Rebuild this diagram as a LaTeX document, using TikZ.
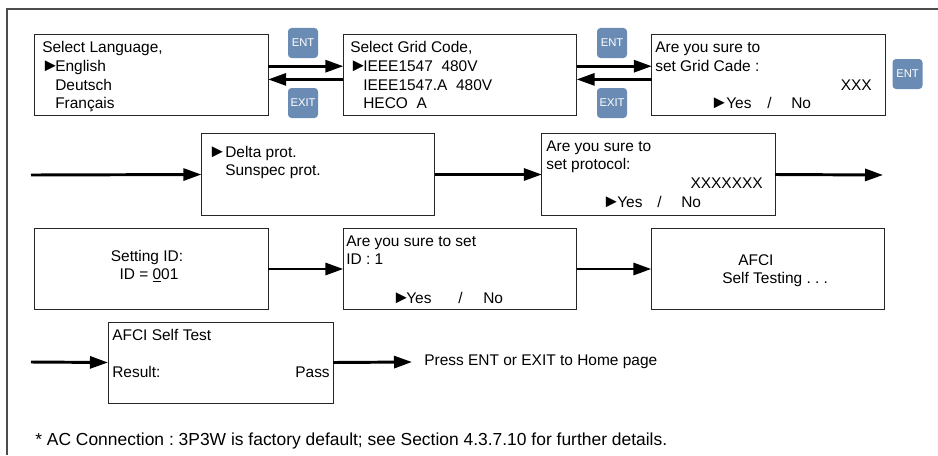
\documentclass[tikz,border=0pt]{standalone}
\usepackage{fontspec}
\setmainfont{Liberation Sans}
\usetikzlibrary{arrows.meta}
\definecolor{keyblue}{RGB}{106,140,180}
\frenchspacing
\begin{document}
\begin{tikzpicture}[x=0.025cm, y=-0.025cm,
    screen/.style={draw=black!85, line width=0.6pt, inner sep=0pt, outer sep=0pt,
      minimum width=5.83cm, minimum height=2.03cm},
    key/.style={fill=keyblue, rounded corners=2.5pt, minimum size=0.75cm, inner sep=0pt,
      text=white, font=\fontsize{8}{9}\selectfont},
    txt/.style={anchor=base west, inner sep=0pt, font=\fontsize{11}{13}\selectfont},
    rtxt/.style={txt, anchor=base east},
    ctxt/.style={txt, anchor=base},
    pick/.style={txt, font=\fontsize{13}{13}\selectfont},
    flow/.style={line width=2.1pt, -{Triangle[length=0.45cm, width=0.3cm]}}]
    \useasboundingbox (0,0) rectangle (938,455);
    % Rahmen
    \draw[black!70, line width=1.2pt] (7,455) -- (7,9) -- (938,9);

    % Sprache
    \node[screen] (lang) at (151.5,75) {};
    \node[txt] (langA) at (42,52) {Select Language,};
    \node[pick] (langP) at (41,71) {►};
    \node[txt] (langB) at (55,71) {English};
    \node[txt] (langC) at (55,90) {Deutsch};
    \node[txt] (langD) at (55,108) {Français};

    % Netzcode
    \node[screen] (grid) at (460,75) {};
    \node[txt] (gridA) at (350,52) {Select Grid Code,};
    \node[pick] (gridP) at (349,71) {►};
    \node[txt] (gridB) at (363,71) {IEEE1547\ \ 480V};
    \node[txt] (gridC) at (363,90) {IEEE1547.A\ \ 480V};
    \node[txt] (gridD) at (363,108) {HECO\ \ A};

    % Bestaetigung Netzcode
    \node[screen] (gridok) at (768.5,75) {};
    \node[txt] (gridokA) at (655,52) {Are you sure to};
    \node[txt] (gridokB) at (655,71) {set Grid Cade :};
    \node[rtxt] (gridokC) at (872,90) {XXX};
    \node[pick] (gridokP) at (710,108) {►};
    \node[txt] (gridokY) at (726,108) {Yes};
    \node[txt] (gridokS) at (767,108) {/};
    \node[txt] (gridokN) at (791,108) {No};

    % Tasten
    \node[key] (ent1) at (303,43) {ENT};
    \node[key] (exit1) at (303,103) {EXIT};
    \node[key] (ent2) at (612,43) {ENT};
    \node[key] (exit2) at (612,103) {EXIT};
    \node[key] (ent3) at (907.5,74) {ENT};

    \draw[flow] ([yshift=0.22cm]lang.east) -- ([yshift=0.22cm]grid.west);
    \draw[flow] ([yshift=-0.11cm]grid.west) -- ([yshift=-0.11cm]lang.east);
    \draw[flow] ([yshift=0.22cm]grid.east) -- ([yshift=0.22cm]gridok.west);
    \draw[flow] ([yshift=-0.11cm]gridok.west) -- ([yshift=-0.11cm]grid.east);

    % Protokoll
    \coordinate (inB) at (31,175);
    \coordinate (outB) at (883,175);
    \node[screen] (prot) at (318,174.5) {};
    \node[pick] (protP) at (208,157) {►};
    \node[txt] (protA) at (225,157) {Delta prot.};
    \node[txt] (protB) at (225,175) {Sunspec prot.};

    \node[screen] (protok) at (658.5,174.5) {};
    \node[txt] (protokA) at (546,151) {Are you sure to};
    \node[txt] (protokB) at (546,169) {set protocol:};
    \node[rtxt] (protokC) at (763,188) {XXXXXXX};
    \node[pick] (protokP) at (602,207) {►};
    \node[txt] (protokY) at (617,207) {Yes};
    \node[txt] (protokS) at (657,207) {/};
    \node[txt] (protokN) at (681,207) {No};

    \draw[flow] (inB) -- (prot.west);
    \draw[flow] (prot.east) -- (protok.west);
    \draw[flow] (protok.east) -- (outB);

    % ID
    \node[screen] (setid) at (151.5,269) {};
    \node[ctxt] (setidA) at (147,261) {Setting ID:};
    \node[ctxt] (setidB) at (149,279) {ID = \underline{0}01};

    \node[screen] (idok) at (460,269) {};
    \node[txt] (idokA) at (346,246) {Are you sure to set};
    \node[txt] (idokB) at (346,264) {ID : 1};
    \node[pick] (idokP) at (392,303) {►};
    \node[txt] (idokY) at (406,303) {Yes};
    \node[txt] (idokS) at (458,303) {/};
    \node[txt] (idokN) at (483,303) {No};

    \node[screen] (afci) at (768,269) {};
    \node[txt] (afciA) at (738,265) {AFCI};
    \node[txt] (afciB) at (722,283) {Self Testing . . .};

    \draw[flow] (setid.east) -- (idok.west);
    \draw[flow] (idok.east) -- (afci.west);

    % Ergebnis
    \coordinate (inD) at (31,362);
    \node[screen, minimum width=5.625cm, minimum height=2.025cm] (result) at (220.5,362.5) {};
    \node[txt] (resultA) at (112,340) {AFCI Self Test};
    \node[txt] (resultB) at (112,377.5) {Result:};
    \node[rtxt] (resultC) at (330,377.5) {Pass};
    \node[anchor=west, inner xsep=0.3cm, inner ysep=0pt, font=\fontsize{11}{13}\selectfont]
      (home) at (412,362) {Press ENT or EXIT to Home page};

    \draw[flow] (inD) -- (result.west);
    \draw[flow] (result.east) -- (home.west);

    % Fussnote
    \node[txt, font=\fontsize{12.4}{14}\selectfont] (note) at (35,445)
      {* AC Connection : 3P3W is factory default; see Section 4.3.7.10 for further details.};
\end{tikzpicture}
\end{document}
